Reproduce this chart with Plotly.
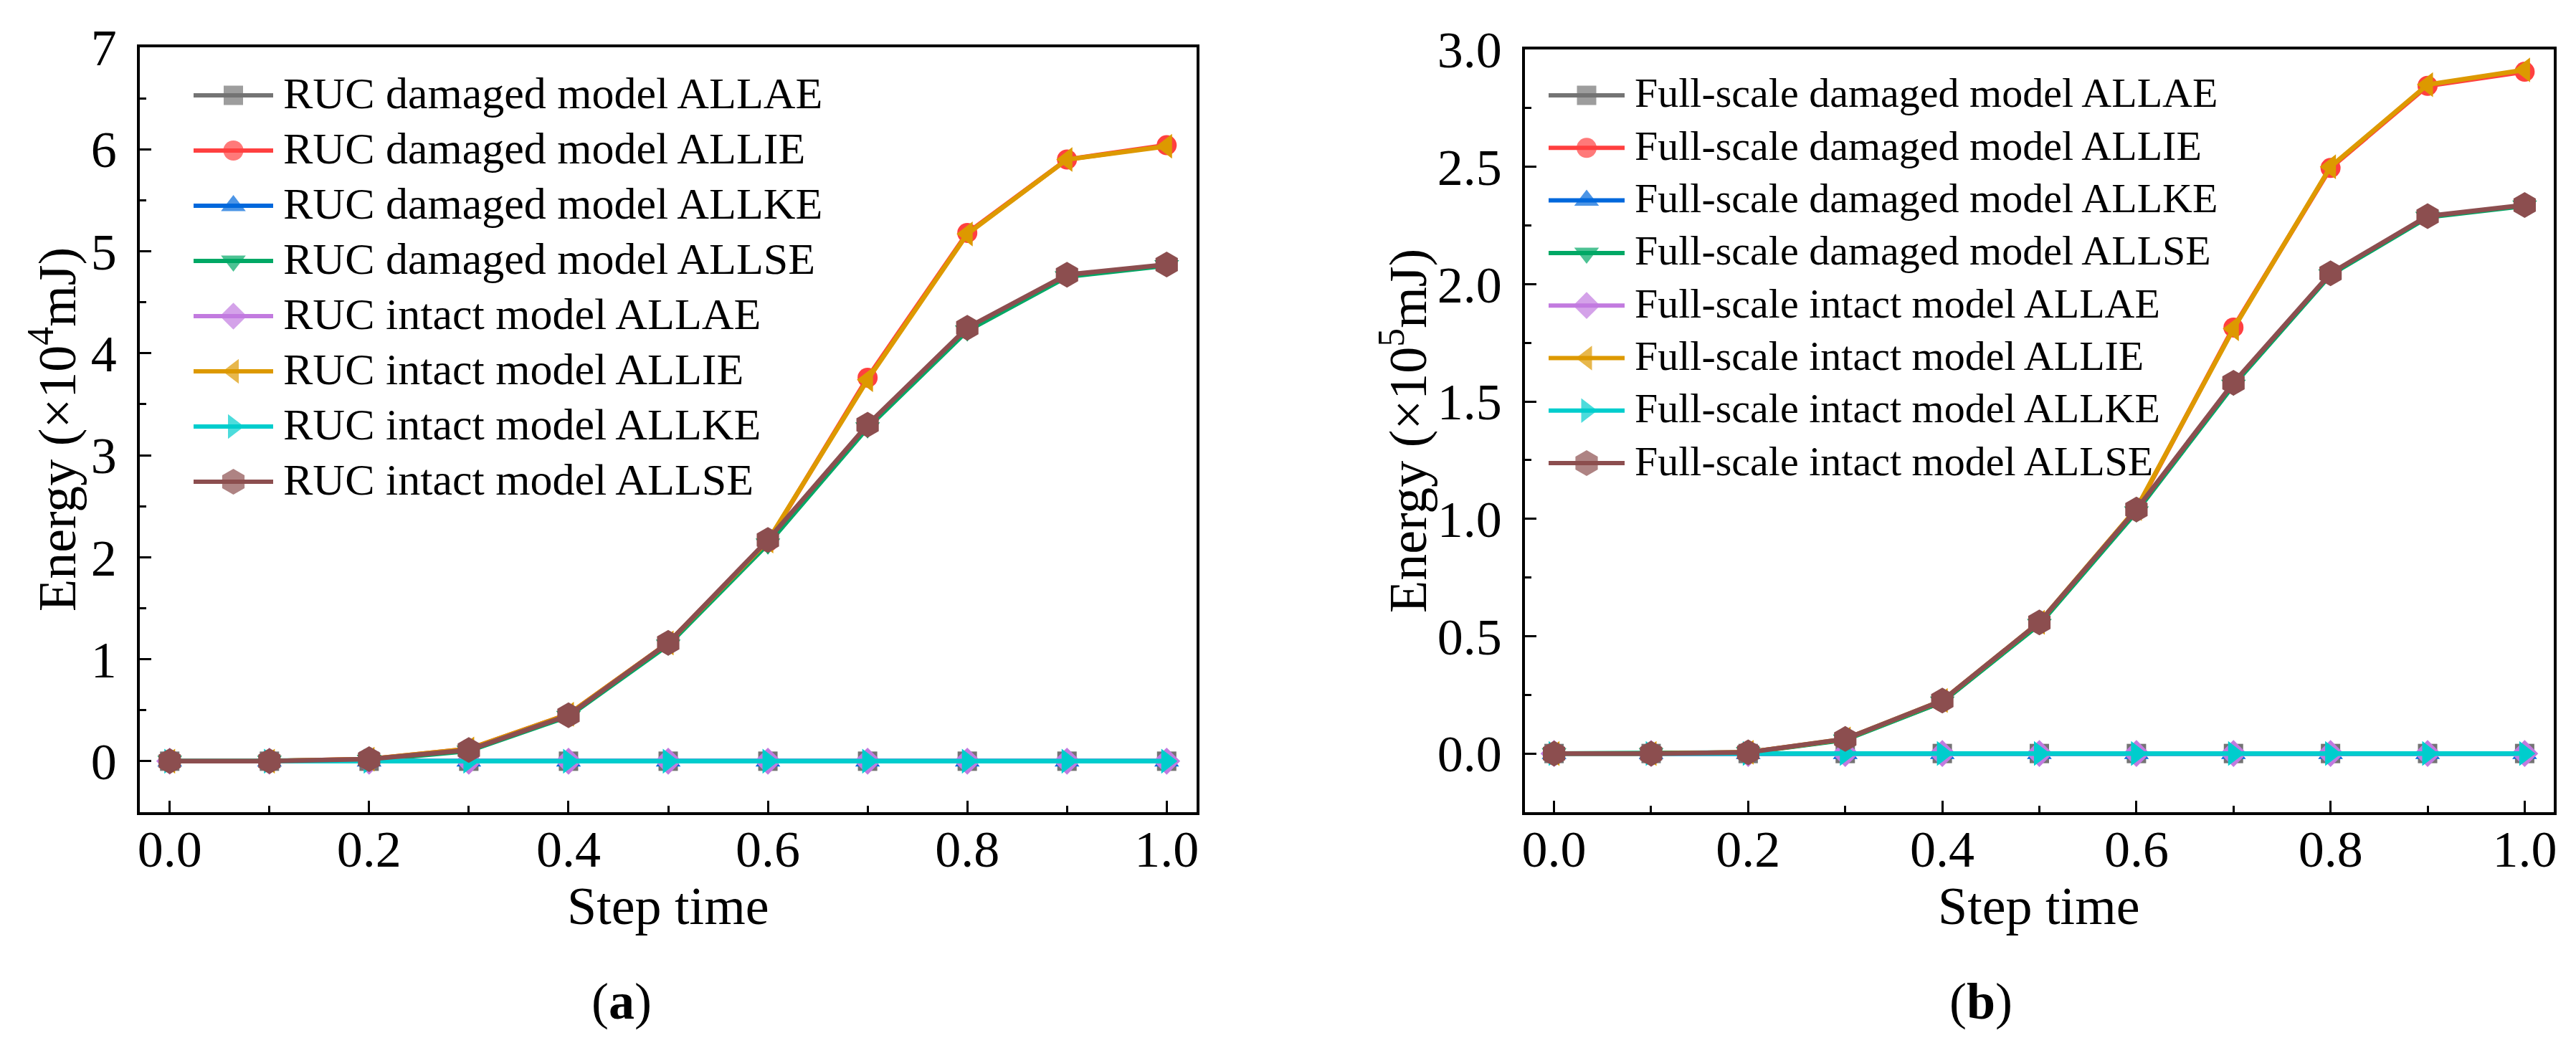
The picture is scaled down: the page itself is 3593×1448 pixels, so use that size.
import plotly.graph_objects as go

W, H = 3593, 1448
FONT = "Liberation Serif"

# ---------------- data ----------------
step_time = [0.0, 0.1, 0.2, 0.3, 0.4, 0.5, 0.6, 0.7, 0.8, 0.9, 1.0]
x_tick_vals = [0.0, 0.2, 0.4, 0.6, 0.8, 1.0]
x_tick_text = ["0.0", "0.2", "0.4", "0.6", "0.8", "1.0"]
x_minor_vals = [0.1, 0.3, 0.5, 0.7, 0.9]

# Panel (a): RUC model, energy in 1e4 mJ
ruc_dam_allae = [0, 0, 0, 0, 0, 0, 0, 0, 0, 0, 0]
ruc_dam_allie = [0, 0, 0.02, 0.12, 0.46, 1.16, 2.15, 3.76, 5.18, 5.90, 6.04]
ruc_dam_allke = [0, 0, 0, 0, 0, 0, 0, 0, 0, 0, 0]
ruc_dam_allse = [0, 0, 0.01, 0.10, 0.44, 1.14, 2.13, 3.27, 4.22, 4.75, 4.86]
ruc_int_allae = [0, 0, 0, 0, 0, 0, 0, 0, 0, 0, 0]
ruc_int_allie = [0, 0, 0.02, 0.12, 0.46, 1.16, 2.16, 3.74, 5.17, 5.90, 6.03]
ruc_int_allke = [0, 0, 0, 0, 0, 0, 0, 0, 0, 0, 0]
ruc_int_allse = [0, 0, 0.02, 0.11, 0.45, 1.16, 2.17, 3.30, 4.25, 4.77, 4.87]

# Panel (b): full-scale model, energy in 1e5 mJ
fs_dam_allae = [0, 0, 0, 0, 0, 0, 0, 0, 0, 0, 0]
fs_dam_allie = [0, 0, 0.005, 0.060, 0.220, 0.555, 1.040, 1.815, 2.495, 2.845, 2.905]
fs_dam_allke = [0, 0, 0, 0, 0, 0, 0, 0, 0, 0, 0]
fs_dam_allse = [0, 0, 0.004, 0.058, 0.220, 0.550, 1.030, 1.570, 2.040, 2.285, 2.333]
fs_int_allae = [0, 0, 0, 0, 0, 0, 0, 0, 0, 0, 0]
fs_int_allie = [0, 0, 0.005, 0.062, 0.226, 0.559, 1.044, 1.810, 2.500, 2.850, 2.913]
fs_int_allke = [0, 0, 0, 0, 0, 0, 0, 0, 0, 0, 0]
fs_int_allse = [0, 0, 0.005, 0.062, 0.226, 0.559, 1.040, 1.580, 2.046, 2.290, 2.337]

labels_a = ["RUC damaged model ALLAE", "RUC damaged model ALLIE",
            "RUC damaged model ALLKE", "RUC damaged model ALLSE",
            "RUC intact model ALLAE", "RUC intact model ALLIE",
            "RUC intact model ALLKE", "RUC intact model ALLSE"]
labels_b = ["Full-scale damaged model ALLAE", "Full-scale damaged model ALLIE",
            "Full-scale damaged model ALLKE", "Full-scale damaged model ALLSE",
            "Full-scale intact model ALLAE", "Full-scale intact model ALLIE",
            "Full-scale intact model ALLKE", "Full-scale intact model ALLSE"]

y_a_ticks = [0, 1, 2, 3, 4, 5, 6, 7]
y_a_minor = [-0.5, 0.5, 1.5, 2.5, 3.5, 4.5, 5.5, 6.5]
y_b_ticks = [0.0, 0.5, 1.0, 1.5, 2.0, 2.5, 3.0]
y_b_tick_text = ["0.0", "0.5", "1.0", "1.5", "2.0", "2.5", "3.0"]
y_b_minor = [-0.25, 0.25, 0.75, 1.25, 1.75, 2.25, 2.75]

# ---------------- styles ----------------
colors = ["#747474", "#FF4040", "#0068DC", "#00A865",
          "#C27BDF", "#DD9900", "#00CDCD", "#8C4E4F"]
symbols = ["square", "circle", "triangle-up", "triangle-down",
           "diamond", "triangle-left", "triangle-right", "hexagon"]
msizes = [27, 28, 30, 30, 29, 30, 30, 36]
LW = 6.5

series_a = [ruc_dam_allae, ruc_dam_allie, ruc_dam_allke, ruc_dam_allse,
            ruc_int_allae, ruc_int_allie, ruc_int_allke, ruc_int_allse]
series_b = [fs_dam_allae, fs_dam_allie, fs_dam_allke, fs_dam_allse,
            fs_int_allae, fs_int_allie, fs_int_allke, fs_int_allse]


def fx(p):
    return p / W


def fy(p):
    return 1 - p / H


fig = go.Figure()

for xa, ya, series, labels in (("x", "y", series_a, labels_a),
                               ("x2", "y2", series_b, labels_b)):
    for vals, name, c, s, ms in zip(series, labels, colors, symbols, msizes):
        fig.add_trace(go.Scatter(
            x=step_time, y=vals, name=name, mode="lines+markers",
            xaxis=xa, yaxis=ya, showlegend=False,
            line=dict(color=c, width=LW),
            marker=dict(symbol=s, size=ms, color=c, line=dict(width=0)),
        ))

# ---------------- custom legends (pixel axis x3/y3) ----------------
annotations = []
legend_specs = [
    dict(labels=labels_a, x0=262, x1=373, tx=385, y0=125, dy=77, fs=62),
    dict(labels=labels_b, x0=2152, x1=2258, tx=2270, y0=125, dy=73.3, fs=58),
]
for spec in legend_specs:
    for i, (name, c, s, ms) in enumerate(zip(spec["labels"], colors, symbols, msizes)):
        yr = spec["y0"] + i * spec["dy"]
        xm = (spec["x0"] + spec["x1"]) / 2
        fig.add_trace(go.Scatter(
            x=[spec["x0"], xm, spec["x1"]], y=[yr, yr, yr],
            mode="lines+markers", xaxis="x3", yaxis="y3",
            showlegend=False, hoverinfo="skip",
            line=dict(color=c, width=6),
            marker=dict(symbol=s, size=[0, ms, 0], color=c, line=dict(width=0)),
        ))
        annotations.append(dict(
            x=fx(spec["tx"]), y=fy(yr - 3), xref="paper", yref="paper",
            text=name, showarrow=False, xanchor="left", yanchor="middle",
            font=dict(family=FONT, size=spec["fs"], color="black"),
        ))

# ---------------- axis titles / captions ----------------
TF = 74
annotations += [
    dict(x=fx(66), y=fy(591), xref="paper", yref="paper", textangle=-90,
         text="Energy (×10<sup>4</sup>mJ)", showarrow=False,
         xanchor="center", yanchor="middle",
         font=dict(family=FONT, size=TF, color="black")),
    dict(x=fx(1950), y=fy(593), xref="paper", yref="paper", textangle=-90,
         text="Energy (×10<sup>5</sup>mJ)", showarrow=False,
         xanchor="center", yanchor="middle",
         font=dict(family=FONT, size=TF, color="black")),
    dict(x=fx(924), y=fy(1256), xref="paper", yref="paper",
         text="Step time", showarrow=False, xanchor="center", yanchor="middle",
         font=dict(family=FONT, size=TF, color="black")),
    dict(x=fx(2836), y=fy(1256), xref="paper", yref="paper",
         text="Step time", showarrow=False, xanchor="center", yanchor="middle",
         font=dict(family=FONT, size=TF, color="black")),
    dict(x=fx(859), y=fy(1389), xref="paper", yref="paper",
         text="(<b>a</b>)", showarrow=False, xanchor="center", yanchor="middle",
         font=dict(family=FONT, size=72, color="black")),
    dict(x=fx(2755), y=fy(1389), xref="paper", yref="paper",
         text="(<b>b</b>)", showarrow=False, xanchor="center", yanchor="middle",
         font=dict(family=FONT, size=72, color="black")),
]

tickfont = dict(family=FONT, size=72, color="black")
common = dict(showline=True, linewidth=3.5, linecolor="black", mirror=True,
              showgrid=False, zeroline=False, ticks="inside", ticklen=16,
              tickwidth=3, tickcolor="black", tickfont=tickfont,
              automargin=False)

fig.update_layout(
    template="none",
    width=W, height=H, autosize=False,
    margin=dict(l=0, r=0, t=0, b=0, pad=0),
    paper_bgcolor="white", plot_bgcolor="rgba(0,0,0,0)",
    showlegend=False,
    annotations=annotations,
    xaxis=dict(domain=[fx(187), fx(1661)], range=[-0.03, 1.03], anchor="y",
               tickmode="array", tickvals=x_tick_vals, ticktext=x_tick_text,
               minor=dict(ticks="inside", ticklen=9, tickwidth=3, tickcolor="black",
                          tickvals=x_minor_vals),
               ticklabelstandoff=-14, **common),
    yaxis=dict(domain=[fy(1125), fy(58)], range=[-0.5, 7], anchor="x",
               tickmode="array", tickvals=y_a_ticks,
               ticktext=[str(v) for v in y_a_ticks],
               minor=dict(ticks="inside", ticklen=9, tickwidth=3, tickcolor="black",
                          tickvals=y_a_minor),
               ticklabelstandoff=14, **common),
    xaxis2=dict(domain=[fx(2119), fx(3554)], range=[-0.03, 1.03], anchor="y2",
                tickmode="array", tickvals=x_tick_vals, ticktext=x_tick_text,
                minor=dict(ticks="inside", ticklen=9, tickwidth=3, tickcolor="black",
                           tickvals=x_minor_vals),
                ticklabelstandoff=-14, **common),
    yaxis2=dict(domain=[fy(1125), fy(61)], range=[-0.25, 3.0], anchor="x2",
                tickmode="array", tickvals=y_b_ticks, ticktext=y_b_tick_text,
                minor=dict(ticks="inside", ticklen=9, tickwidth=3, tickcolor="black",
                           tickvals=y_b_minor),
                ticklabelstandoff=14, **common),
    xaxis3=dict(domain=[0, 1], range=[0, W], visible=False, anchor="y3",
                fixedrange=True, automargin=False),
    yaxis3=dict(domain=[0, 1], range=[H, 0], visible=False, anchor="x3",
                fixedrange=True, automargin=False),
)

fig.write_html("out.html")
